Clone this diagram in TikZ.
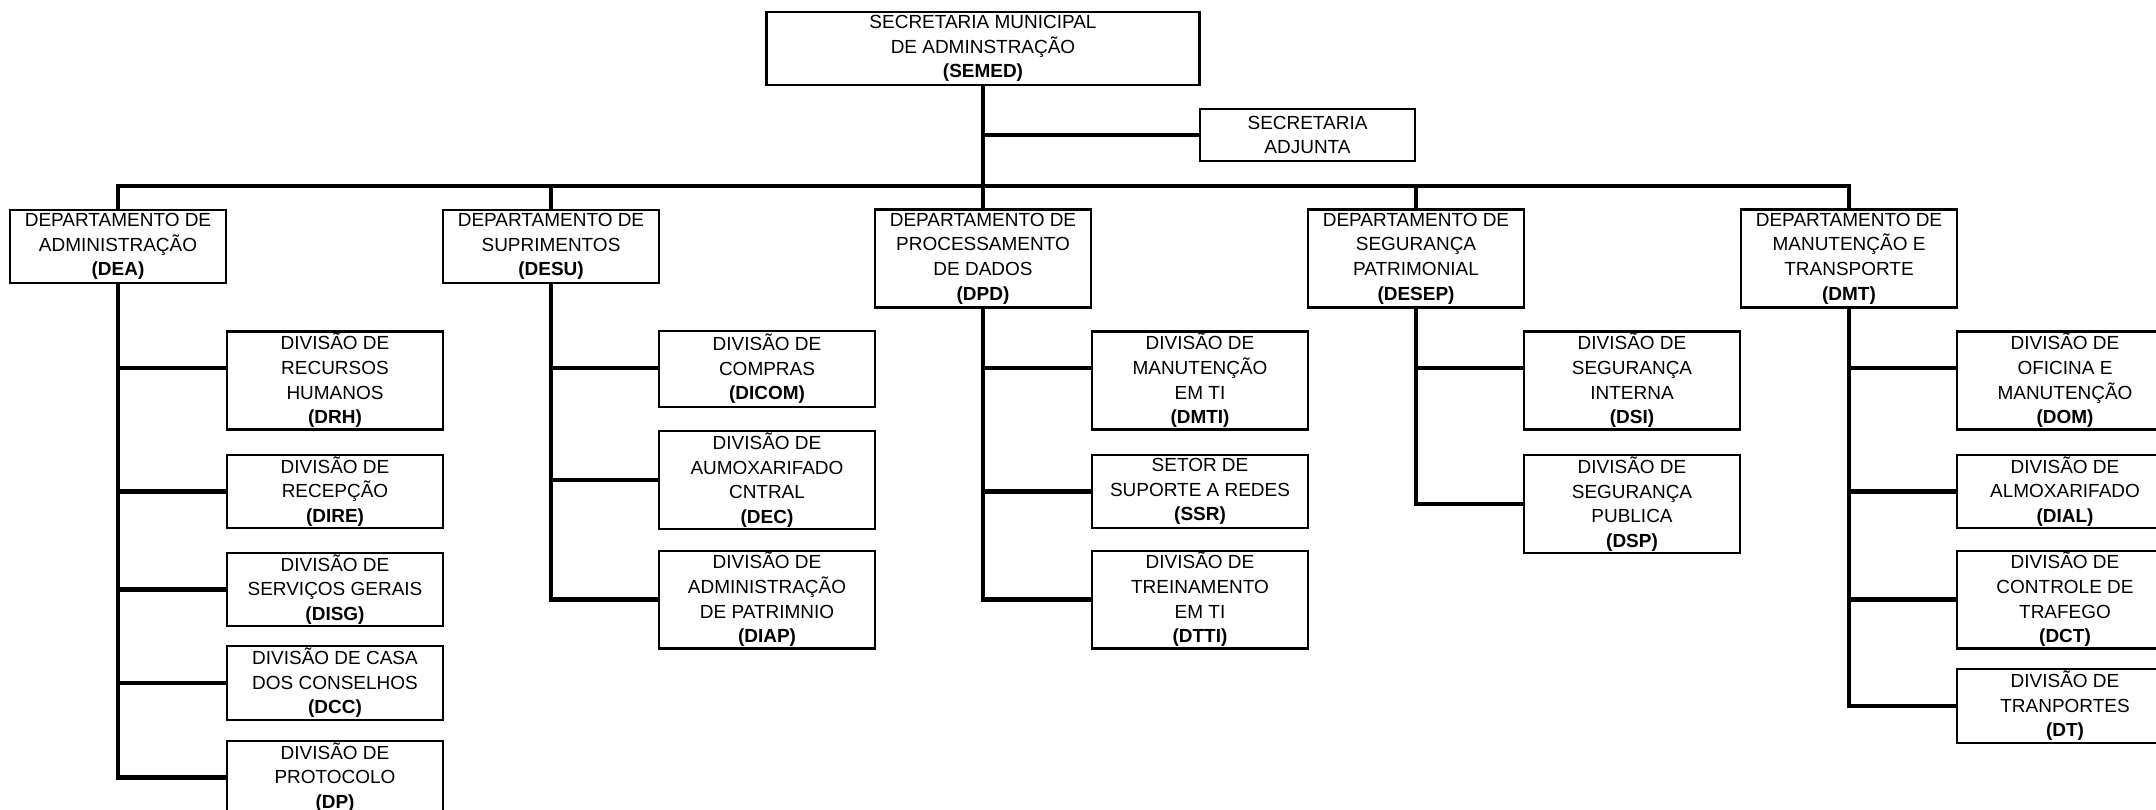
\documentclass[tikz,border=0pt]{standalone}
\usepackage{fontspec}
\setmainfont{Liberation Sans}

\begin{document}
\begin{tikzpicture}[
    x=0.02cm, y=-0.02cm,
    box/.style={
        draw,
        line width=1.2pt,
        align=center,
        minimum width=4.32cm,
        minimum height=1.46cm,
        inner sep=1pt,
        font=\fontsize{10.8}{14}\selectfont
    },
    tall/.style={minimum height=1.96cm},
    conn/.style={
        line width=2.7pt
    }
]
    \useasboundingbox (0,0) rectangle (2156,809);

    % Secretaria
    \node[box, minimum width=8.66cm] (semed) at (983,48.5) {SECRETARIA MUNICIPAL\\DE ADMINSTRAÇÃO\\\textbf{(SEMED)}};
    \node[box, minimum width=4.3cm, minimum height=1.04cm] (adj) at (1307.5,135) {SECRETARIA\\ADJUNTA};

    % Departamentos
    \node[box] (dea) at (118,246.5) {DEPARTAMENTO DE\\ADMINISTRAÇÃO\\\textbf{(DEA)}};
    \node[box] (desu) at (551,246.5) {DEPARTAMENTO DE\\SUPRIMENTOS\\\textbf{(DESU)}};
    \node[box, tall] (dpd) at (983,258.5) {DEPARTAMENTO DE\\PROCESSAMENTO\\DE DADOS\\\textbf{(DPD)}};
    \node[box, tall] (desep) at (1416,258.5) {DEPARTAMENTO DE\\SEGURANÇA\\PATRIMONIAL\\\textbf{(DESEP)}};
    \node[box, tall] (dmt) at (1849,258.5) {DEPARTAMENTO DE\\MANUTENÇÃO E\\TRANSPORTE\\\textbf{(DMT)}};

    % Divisoes DEA
    \node[box, tall] (drh) at (335,380.5) {DIVISÃO DE\\RECURSOS\\HUMANOS\\\textbf{(DRH)}};
    \node[box] (dire) at (335,491.5) {DIVISÃO DE\\RECEPÇÃO\\\textbf{(DIRE)}};
    \node[box] (disg) at (335,589.5) {DIVISÃO DE\\SERVIÇOS GERAIS\\\textbf{(DISG)}};
    \node[box, minimum height=1.4cm] (dcc) at (335,683) {DIVISÃO DE CASA\\DOS CONSELHOS\\\textbf{(DCC)}};
    \node[box] (dp) at (335,777.5) {DIVISÃO DE\\PROTOCOLO\\\textbf{(DP)}};

    % Divisoes DESU
    \node[box, minimum height=1.52cm] (dicom) at (767,369) {DIVISÃO DE\\COMPRAS\\\textbf{(DICOM)}};
    \node[box, minimum height=1.92cm] (dec) at (767,480) {DIVISÃO DE\\AUMOXARIFADO\\CNTRAL\\\textbf{(DEC)}};
    \node[box, minimum height=1.86cm] (diap) at (767,599.5) {DIVISÃO DE\\ADMINISTRAÇÃO\\DE PATRIMNIO\\\textbf{(DIAP)}};

    % Divisoes DPD
    \node[box, tall] (dmti) at (1200,380.5) {DIVISÃO DE\\MANUTENÇÃO\\EM TI\\\textbf{(DMTI)}};
    \node[box] (ssr) at (1200,491.5) {SETOR DE\\SUPORTE A REDES\\\textbf{(SSR)}};
    \node[box, minimum height=1.86cm] (dtti) at (1200,599.5) {DIVISÃO DE\\TREINAMENTO\\EM TI\\\textbf{(DTTI)}};

    % Divisoes DESEP
    \node[box, tall] (dsi) at (1632,380.5) {DIVISÃO DE\\SEGURANÇA\\INTERNA\\\textbf{(DSI)}};
    \node[box, tall] (dsp) at (1632,504) {DIVISÃO DE\\SEGURANÇA\\PUBLICA\\\textbf{(DSP)}};

    % Divisoes DMT
    \node[box, tall] (dom) at (2065,380.5) {DIVISÃO DE\\OFICINA E\\MANUTENÇÃO\\\textbf{(DOM)}};
    \node[box] (dial) at (2065,491.5) {DIVISÃO DE\\ALMOXARIFADO\\\textbf{(DIAL)}};
    \node[box, minimum height=1.86cm] (dct) at (2065,599.5) {DIVISÃO DE\\CONTROLE DE\\TRAFEGO\\\textbf{(DCT)}};
    \node[box, minimum height=1.4cm] (dt) at (2065,706) {DIVISÃO DE\\TRANPORTES\\\textbf{(DT)}};

    % Ligacoes do topo
    \coordinate (bar) at (983,186);
    \coordinate (row1) at (0,368);
    \draw[conn] (semed.south) -- (semed.south |- bar);
    \draw[conn] (semed.south |- adj.west) -- (adj.west);
    \draw[conn] (dea.north) -- (dea.north |- bar) -- (dmt.north |- bar) -- (dmt.north);
    \foreach \d in {desu,dpd,desep}
        \draw[conn] (\d.north) -- (\d.north |- bar);

    % Ligacoes das divisoes
    \draw[conn] (dea.south) |- (dp.west);
    \draw[conn] (desu.south) |- (diap.west);
    \draw[conn] (dpd.south) |- (dtti.west);
    \draw[conn] (desep.south) |- (dsp.west);
    \draw[conn] (dmt.south) |- (dt.west);
    \foreach \p/\k in {dea/dire, dea/disg, dea/dcc, desu/dec, dpd/ssr, dmt/dial, dmt/dct}
        \draw[conn] (\p.south |- \k.west) -- (\k.west);
    \foreach \p/\k in {dea/drh, desu/dicom, dpd/dmti, desep/dsi, dmt/dom}
        \draw[conn] (\p.south |- row1) -- (\k.west |- row1);
\end{tikzpicture}
\end{document}
